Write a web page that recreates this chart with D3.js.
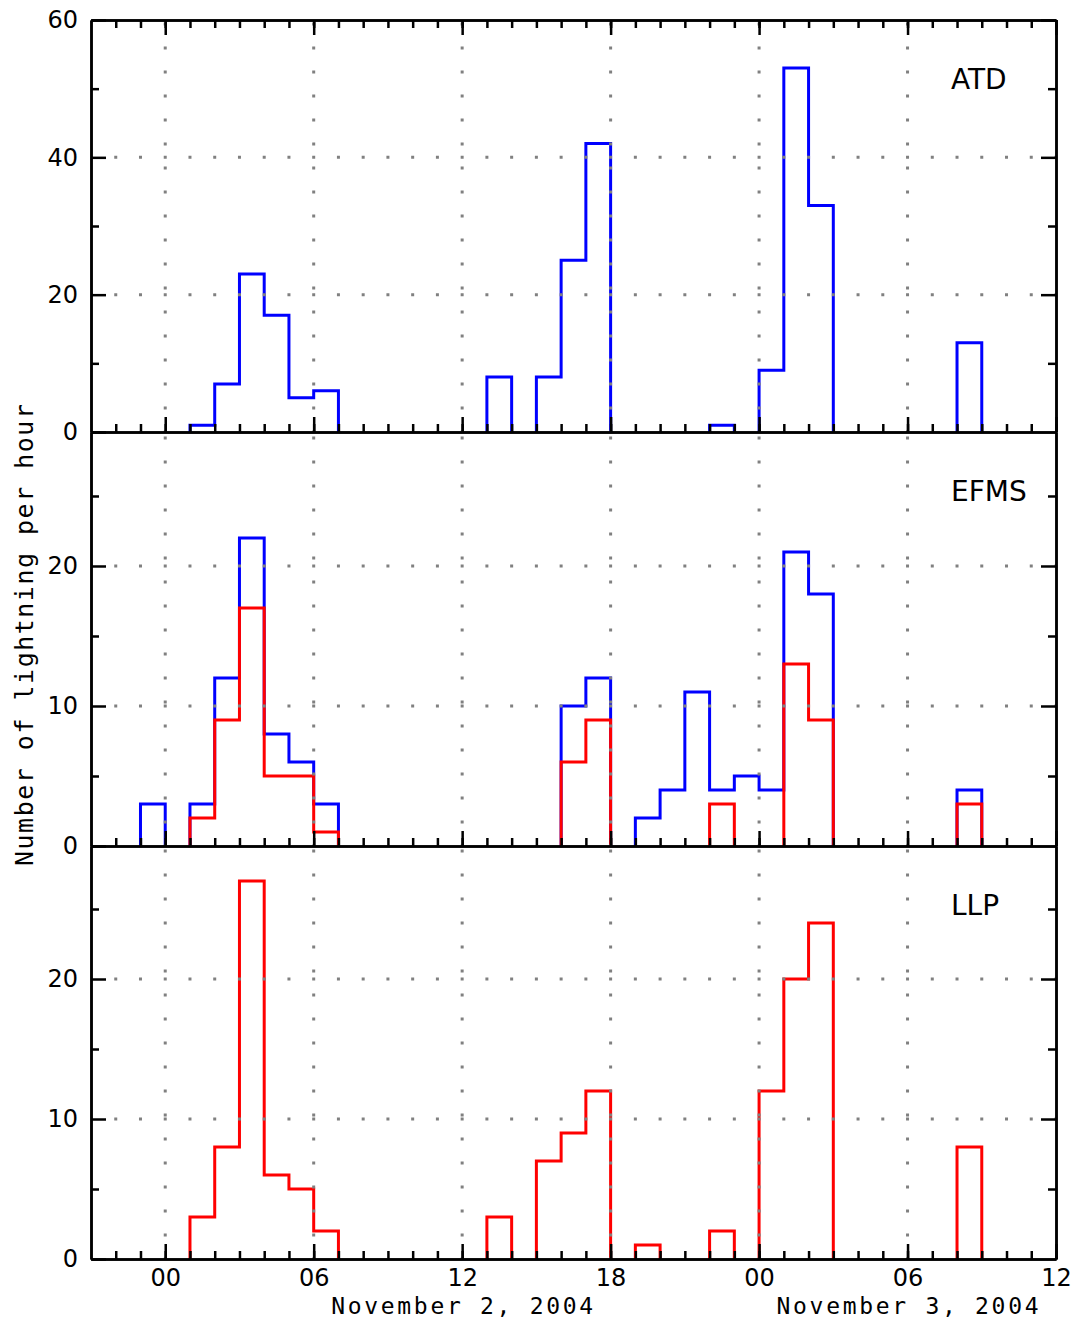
<!DOCTYPE html>
<html>
<head>
<meta charset="utf-8">
<script src="https://cdn.jsdelivr.net/npm/d3@7"></script>
<style>
body { margin: 0; background: #fff; }
</style>
</head>
<body>
<script>
// hourly bins, start hour relative to 00 UT on Nov 2 (24.. = Nov 3)
var hours = [-3, -2, -1, 0, 1, 2, 3, 4, 5, 6, 7, 8, 9, 10, 11, 12, 13, 14, 15, 16, 17, 18, 19,
             20, 21, 22, 23, 24, 25, 26, 27, 28, 29, 30, 31, 32, 33, 34, 35];

// counts per hour
var atd      = [0, 0, 0, 0, 1, 7, 23, 17, 5, 6, 0, 0, 0, 0, 0, 0, 8, 0, 8, 25, 42, 0, 0,
                0, 0, 1, 0, 9, 53, 33, 0, 0, 0, 0, 0, 13, 0, 0, 0];
var efmsBlue = [0, 0, 3, 0, 3, 12, 22, 8, 6, 3, 0, 0, 0, 0, 0, 0, 0, 0, 0, 10, 12, 0, 2,
                4, 11, 4, 5, 4, 21, 18, 0, 0, 0, 0, 0, 4, 0, 0, 0];
var efmsRed  = [0, 0, 0, 0, 2, 9, 17, 5, 5, 1, 0, 0, 0, 0, 0, 0, 0, 0, 0, 6, 9, 0, 0,
                0, 0, 3, 0, 0, 13, 9, 0, 0, 0, 0, 0, 3, 0, 0, 0];
var llp      = [0, 0, 0, 0, 3, 8, 27, 6, 5, 2, 0, 0, 0, 0, 0, 0, 3, 0, 7, 9, 12, 0, 1,
                0, 0, 2, 0, 12, 20, 24, 0, 0, 0, 0, 0, 8, 0, 0, 0];

var majorHours = [0, 6, 12, 18, 24, 30, 36];
var dayLabels = ["November 2, 2004", "November 3, 2004"];

var width = 1075, height = 1322;
var left = 91, right = 1056;

var svg = d3.select("body").append("svg")
    .attr("width", width)
    .attr("height", height);

var x = d3.scaleLinear()
    .domain([-3, 36])
    .range([left, right]);

var panels = [
    {name: "ATD",  top: 20,  bottom: 432,  max: 60,   majors: [0, 20, 40, 60], minors: [10, 30, 50],
     series: [{values: atd, color: "#0000ff"}]},
    {name: "EFMS", top: 432, bottom: 846,  max: 29.57, majors: [0, 10, 20], minors: [5, 15, 25],
     series: [{values: efmsBlue, color: "#0000ff"}, {values: efmsRed, color: "#ff0000"}]},
    {name: "LLP",  top: 846, bottom: 1259, max: 29.5, majors: [0, 10, 20], minors: [5, 15, 25],
     series: [{values: llp, color: "#ff0000"}]}
];

// split a series into runs of non-zero bins, each drawn as a step outline down to zero
function runs(vals) {
    var out = [], cur = null;
    vals.forEach(function (v, i) {
        if (v > 0) {
            if (!cur) { cur = []; out.push(cur); }
            cur.push([hours[i], v]);
        } else {
            cur = null;
        }
    });
    return out.map(function (r) {
        var last = r[r.length - 1];
        return [[r[0][0], 0]].concat(r, [[last[0] + 1, last[1]], [last[0] + 1, 0]]);
    });
}

function styleAxis(g) {
    g.attr("font-family", "DejaVu Sans").attr("font-size", 24);
    g.selectAll("path, line").attr("stroke", "#000").attr("stroke-width", 2.5);
}

var fmtHour = function (h) { return d3.format("02")(h % 24); };

panels.forEach(function (p, i) {
    var y = d3.scaleLinear()
        .domain([0, p.max])
        .range([p.bottom, p.top]);

    var line = d3.line()
        .x(function (d) { return x(d[0]); })
        .y(function (d) { return y(d[1]); })
        .curve(d3.curveStepAfter);

    // histograms
    p.series.forEach(function (s) {
        svg.append("g").selectAll("path")
            .data(runs(s.values))
            .enter().append("path")
            .attr("d", line)
            .attr("fill", "none")
            .attr("stroke", s.color)
            .attr("stroke-width", 3);
    });

    // dotted grid (drawn over the data like in the original)
    svg.append("g").selectAll("line")
        .data(majorHours.slice(0, 6))
        .enter().append("line")
        .attr("x1", function (d) { return x(d); })
        .attr("x2", function (d) { return x(d); })
        .attr("y1", p.bottom)
        .attr("y2", p.top)
        .attr("stroke", "#808080")
        .attr("stroke-width", 3)
        .attr("stroke-dasharray", "3 21")
        .attr("stroke-dashoffset", 1.5);

    svg.append("g").selectAll("line")
        .data(p.majors.filter(function (v) { return v > 0 && v < p.max; }))
        .enter().append("line")
        .attr("x1", left)
        .attr("x2", right)
        .attr("y1", function (d) { return y(d); })
        .attr("y2", function (d) { return y(d); })
        .attr("stroke", "#808080")
        .attr("stroke-width", 3)
        .attr("stroke-dasharray", "3 " + (x(1) - x(0) - 3))
        .attr("stroke-dashoffset", 1.5);

    // bottom axis: hourly minor ticks, 6-hourly majors
    svg.append("g")
        .attr("transform", "translate(0," + p.bottom + ")")
        .call(d3.axisBottom(x).tickValues(hours.slice(1).concat([36])).tickSize(-8).tickSizeOuter(0).tickFormat(""))
        .call(styleAxis);
    svg.append("g")
        .attr("transform", "translate(0," + p.bottom + ")")
        .call(d3.axisBottom(x).tickValues(majorHours).tickSize(-15).tickSizeOuter(0)
            .tickPadding(10).tickFormat(i === 2 ? fmtHour : ""))
        .call(styleAxis);

    if (i === 0) {
        svg.append("g")
            .attr("transform", "translate(0," + p.top + ")")
            .call(d3.axisTop(x).tickValues(hours.slice(1).concat([36])).tickSize(-8).tickSizeOuter(0).tickFormat(""))
            .call(styleAxis);
        svg.append("g")
            .attr("transform", "translate(0," + p.top + ")")
            .call(d3.axisTop(x).tickValues(majorHours).tickSize(-15).tickSizeOuter(0).tickFormat(""))
            .call(styleAxis);
    }

    // left and right axes
    svg.append("g")
        .attr("transform", "translate(" + left + ",0)")
        .call(d3.axisLeft(y).tickValues(p.minors).tickSize(-8).tickSizeOuter(0).tickFormat(""))
        .call(styleAxis);
    svg.append("g")
        .attr("transform", "translate(" + left + ",0)")
        .call(d3.axisLeft(y).tickValues(p.majors).tickSize(-15).tickSizeOuter(0).tickPadding(13))
        .call(styleAxis);
    svg.append("g")
        .attr("transform", "translate(" + right + ",0)")
        .call(d3.axisRight(y).tickValues(p.minors).tickSize(-8).tickSizeOuter(0).tickFormat(""))
        .call(styleAxis);
    svg.append("g")
        .attr("transform", "translate(" + right + ",0)")
        .call(d3.axisRight(y).tickValues(p.majors.filter(function (v) { return v > 0; }))
            .tickSize(-15).tickSizeOuter(0).tickFormat(""))
        .call(styleAxis);

    // panel name
    svg.append("text")
        .attr("x", 951)
        .attr("y", p.top + 69)
        .attr("font-family", "DejaVu Sans")
        .attr("font-size", 28)
        .text(p.name);
});

// date labels under the bottom axis
svg.selectAll(".day")
    .data(dayLabels)
    .enter().append("text")
    .attr("class", "day")
    .attr("x", function (d, i) { return x(12 + 18 * i); })
    .attr("y", 1314)
    .attr("text-anchor", "middle")
    .attr("font-family", "DejaVu Sans Mono")
    .attr("font-size", 23)
    .attr("textLength", 262)
    .attr("lengthAdjust", "spacing")
    .text(function (d) { return d; });

// y axis title
svg.append("text")
    .attr("transform", "translate(33,635) rotate(-90)")
    .attr("text-anchor", "middle")
    .attr("font-family", "DejaVu Sans Mono")
    .attr("font-size", 25)
    .attr("textLength", 462)
    .attr("lengthAdjust", "spacing")
    .text("Number of lightning per hour");
</script>
</body>
</html>
